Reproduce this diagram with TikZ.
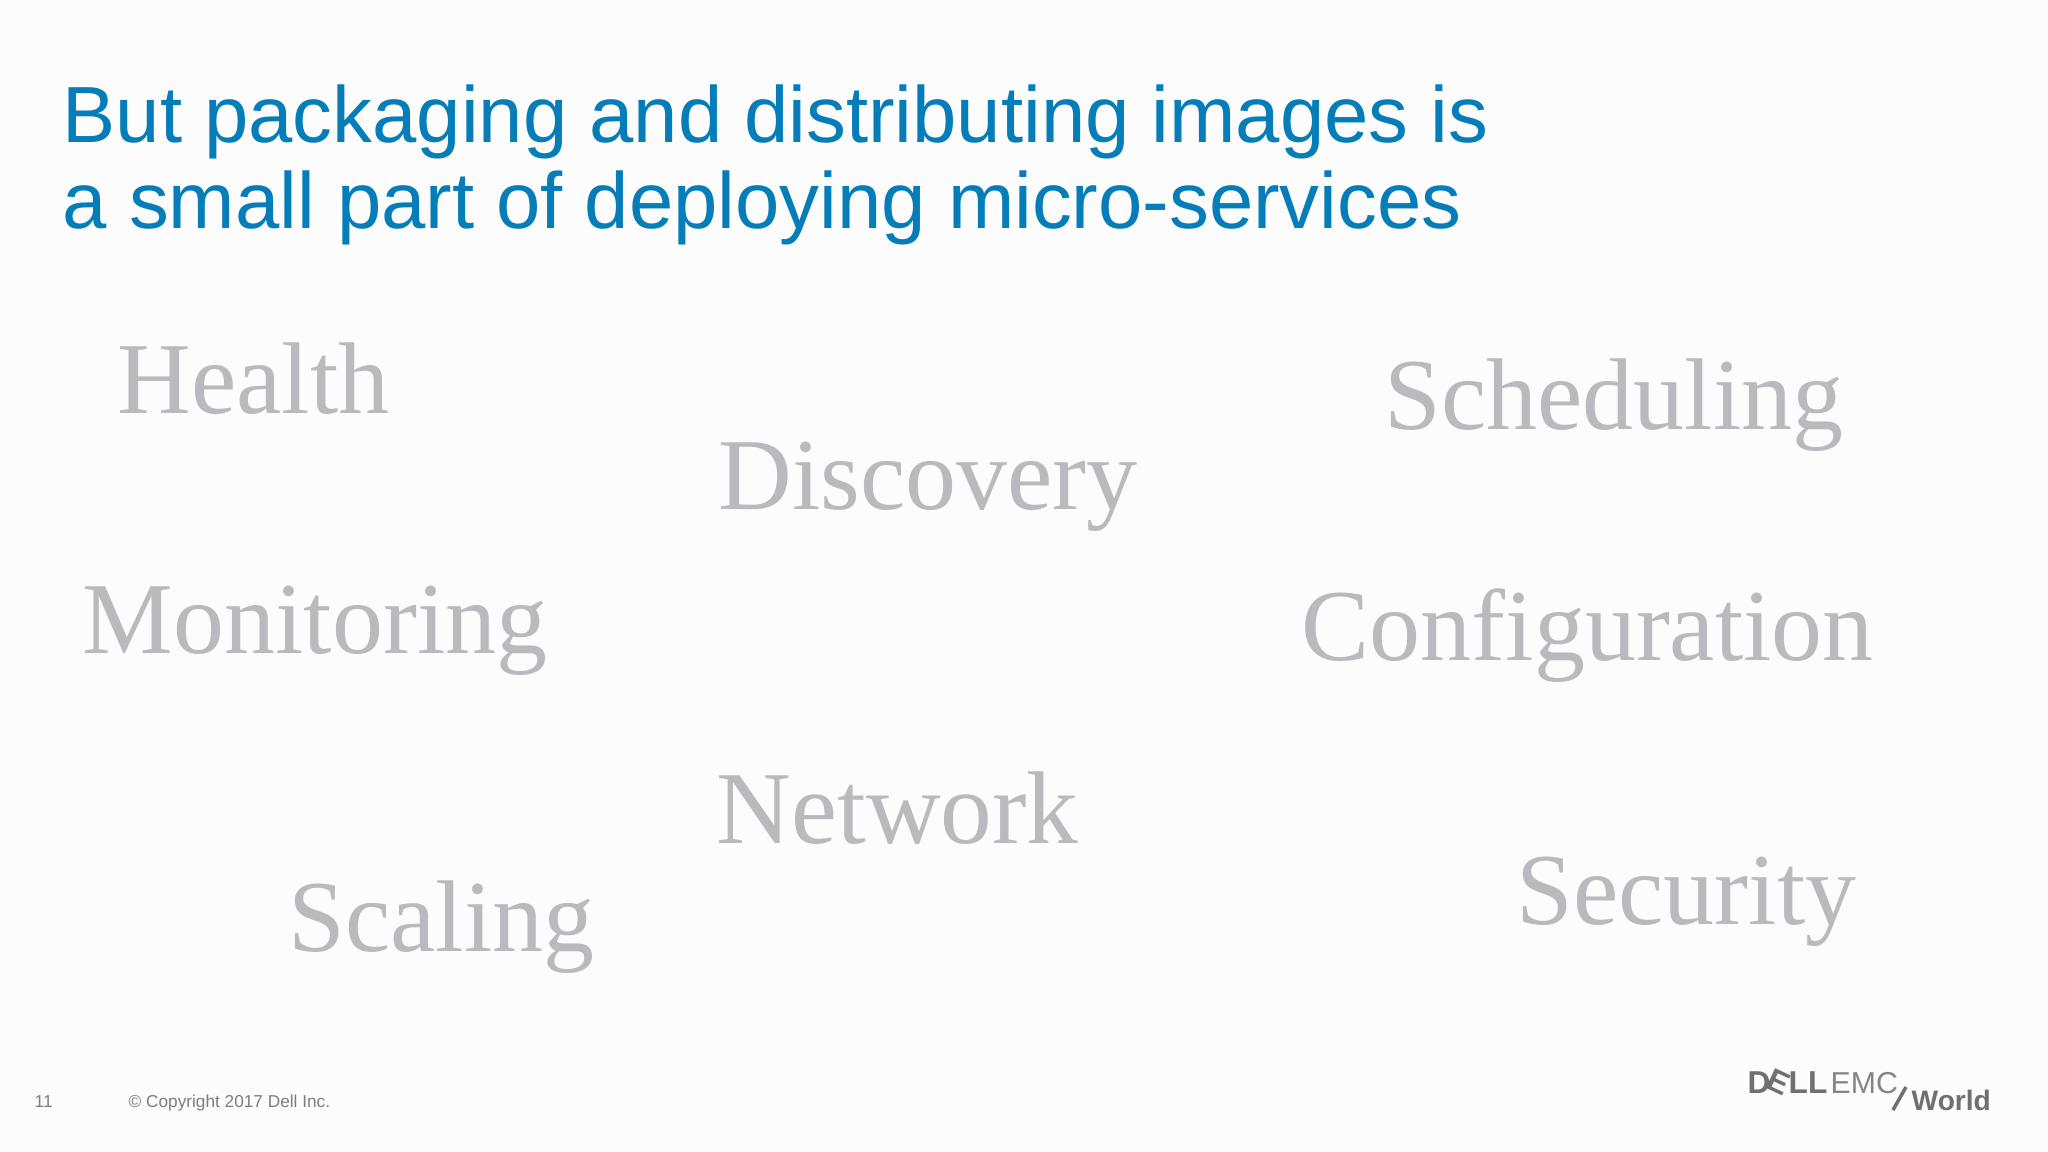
\documentclass[tikz,border=0pt]{standalone}
\usepackage{fontspec}
\setmainfont{Liberation Sans}
\newfontfamily\wordfont{Liberation Serif}
\usetikzlibrary{positioning}
\definecolor{TitleBlue}{RGB}{5, 125, 184}
\definecolor{WordGray}{RGB}{186, 186, 190}
\definecolor{FootGray}{RGB}{125, 125, 128}
\definecolor{LogoGray}{RGB}{112, 112, 115}

\begin{document}
\begin{tikzpicture}[
    x=0.01cm,
    y=-0.01cm,
    title_text/.style={
        anchor=base west,
        inner sep=0pt,
        text=TitleBlue,            % Heading colour
        font=\fontsize{22.65}{25}\selectfont
    },
    topic/.style={
        anchor=base west,
        inner sep=0pt,
        text=WordGray,             % Pale serif words
        font=\wordfont\fontsize{29}{32}\selectfont
    },
    foot_text/.style={
        anchor=base west,
        inner sep=0pt,
        text=FootGray,
        font=\fontsize{4.9}{6}\selectfont
    },
    logo_bold/.style={
        anchor=base west,
        inner sep=0pt,
        text=LogoGray,
        font=\bfseries\fontsize{9}{10}\selectfont
    },
    logo_thin/.style={
        anchor=base west,
        inner sep=0pt,
        text=LogoGray!85,
        font=\fontsize{8.6}{10}\selectfont
    }
]

    % --- 1. Page ---
    \useasboundingbox (0,0) rectangle (2048,1152);
    \fill[white!99!black] (0,0) rectangle (2048,1152);

    % --- 2. Heading ---
    \node[title_text] (title_a) at (62,143) {But packaging and distributing images is};
    \node[title_text] (title_b) at (62,229) {a small part of deploying micro-services};

    % --- 3. Topics ---
    \node[topic] (health) at (117,414) {Health};
    \node[topic] (discovery) at (718,510) {Discovery};
    \node[topic] (scheduling) at (1384,430) {Scheduling};
    \node[topic] (monitoring) at (82,653) {Monitoring};
    \node[topic] (configuration) at (1301,660) {Configuration};
    \node[topic, font=\wordfont\fontsize{29.4}{32}\selectfont] (network) at (716,843) {Network};
    \node[topic] (scaling) at (288,951) {Scaling};
    \node[topic] (security) at (1516,924) {Security};

    % --- 4. Footer ---
    \node[foot_text] (page_no) at (34,1107) {11};
    \node[foot_text] (copyright) at (128,1107) {© Copyright 2017 Dell Inc.};

    % --- 5. Logo ---
    \node[logo_bold] (logo_d) at (1747,1093) {D};
    \node[logo_bold, anchor=center, rotate=-25] (logo_e) at (1779,1082) {E};
    \node[logo_bold] (logo_ll) at (1788,1093) {LL};
    \node[logo_thin] (logo_emc) at (1830,1093) {EMC};
    \draw[LogoGray, line width=1pt] (1893,1110) -- (1906,1087);
    \node[logo_bold, font=\bfseries\fontsize{8}{10}\selectfont] (logo_world) at (1911,1110) {World};

\end{tikzpicture}
\end{document}
